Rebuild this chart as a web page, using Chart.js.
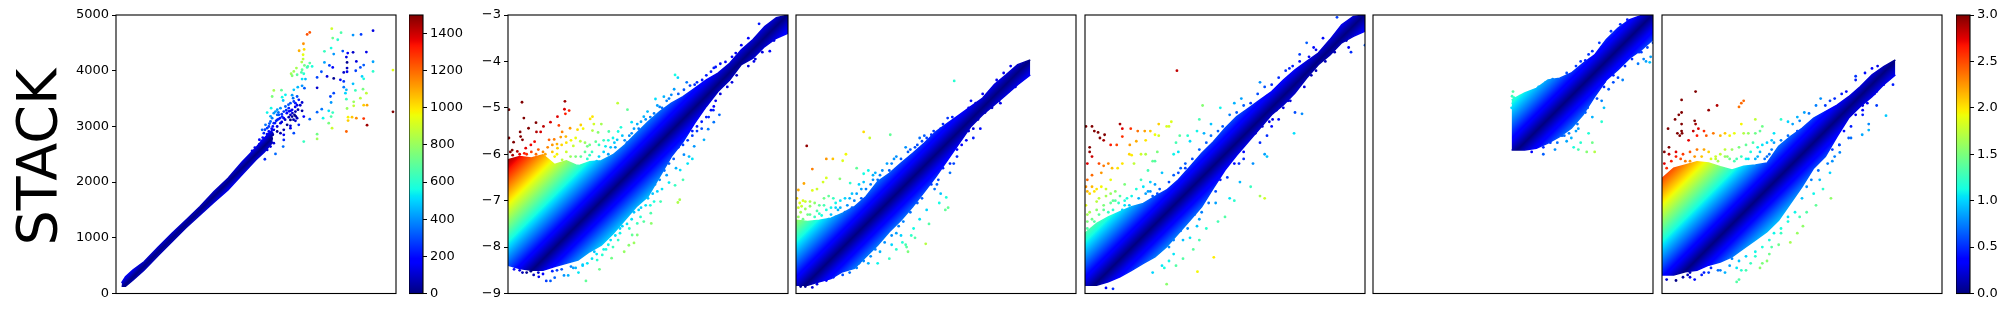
<!DOCTYPE html>
<html><head><meta charset="utf-8">
<script src="https://cdn.jsdelivr.net/npm/chart.js@4/dist/chart.umd.js"></script>
<style>
html,body{margin:0;padding:0;background:#fff;width:2011px;height:311px;overflow:hidden}
canvas{position:absolute;top:0}
#lab{position:absolute;left:36px;top:157px;transform:translate(-50%,-50%) rotate(-90deg);font:55.5px "DejaVu Sans";color:#000;white-space:nowrap}
</style></head><body>
<div id="lab">STACK</div>
<script>
// ---- envelope of the solid part of each cloud
const p1X=[100,170,300,500,750,1000,1250,1500,1750,2000,2250,2500,2650,2800];
const p1Up=[190,300,420,570,830,1080,1320,1560,1830,2070,2360,2620,2790,2950];
const p1Lo=[130,130,240,420,680,930,1180,1410,1640,1860,2130,2400,2540,2720];
const q25=[-9,-8.75,-8.5,-8.25,-8,-7.75,-7.5,-7.25,-7,-6.75,-6.5,-6.25,-6,-5.75,-5.5,-5.25,-5,-4.75,-4.5,-4.25,-4,-3.75,-3.5,-3.25,-3];
const p2X=q25;
const p2Up=[-6.12,-6.05,-6.08,-6.01,-6.22,-6.14,-6.25,-6.16,-6.14,-6.01,-5.8,-5.55,-5.3,-5.08,-4.9,-4.76,-4.58,-4.4,-4.25,-4.04,-3.75,-3.53,-3.25,-3.06,-3];
const p2Lo=[-8.39,-8.46,-8.5,-8.5,-8.42,-8.35,-8.28,-8.1,-7.96,-7.71,-7.42,-7.13,-6.91,-6.48,-6.05,-5.73,-5.33,-4.97,-4.65,-4.4,-4.07,-3.93,-3.68,-3.5,-3.39];
const p3X=[-9,-8.75,-8.5,-8.25,-8,-7.75,-7.5,-7.25,-7,-6.75,-6.5,-6.25,-6,-5.75,-5.5,-5.25,-5,-4.75,-4.5,-4.25,-3.98];
const p3Up=[-7.42,-7.45,-7.42,-7.38,-7.27,-7.13,-6.91,-6.59,-6.41,-6.19,-5.98,-5.76,-5.51,-5.33,-5.15,-4.97,-4.79,-4.5,-4.29,-4.07,-3.97];
const p3Lo=[-8.82,-8.82,-8.75,-8.68,-8.53,-8.46,-8.21,-7.96,-7.67,-7.42,-7.13,-6.81,-6.48,-6.12,-5.76,-5.4,-5.15,-4.94,-4.72,-4.5,-4.29];
const p4X=q25;
const p4Up=[-7.7,-7.49,-7.35,-7.24,-7.13,-7.06,-6.91,-6.77,-6.55,-6.27,-5.98,-5.73,-5.44,-5.19,-5.01,-4.83,-4.65,-4.4,-4.18,-4,-3.82,-3.53,-3.21,-3.03,-3];
const p4Lo=[-8.82,-8.82,-8.75,-8.64,-8.5,-8.35,-8.21,-7.99,-7.71,-7.42,-7.13,-6.73,-6.34,-6.02,-5.73,-5.44,-5.15,-4.94,-4.68,-4.36,-4.07,-3.86,-3.6,-3.46,-3.35];
const p5X=[-6.03,-5.75,-5.5,-5.25,-5,-4.75,-4.5,-4.25,-4,-3.75,-3.5,-3.25,-3];
const p5Up=[-4.83,-4.68,-4.58,-4.4,-4.36,-4.25,-4.04,-3.86,-3.53,-3.28,-3.1,-3.01,-3];
const p5Lo=[-5.91,-5.91,-5.87,-5.76,-5.62,-5.44,-5.15,-4.76,-4.4,-4.18,-3.93,-3.75,-3.53];
const p6X=[-9,-8.75,-8.5,-8.25,-8,-7.75,-7.5,-7.25,-7,-6.75,-6.5,-6.25,-6,-5.75,-5.5,-5.25,-5,-4.75,-4.5,-4.25,-4];
const p6Up=[-6.52,-6.3,-6.23,-6.16,-6.19,-6.27,-6.34,-6.26,-6.23,-6.19,-5.83,-5.62,-5.44,-5.22,-5.08,-4.94,-4.76,-4.54,-4.29,-4.11,-3.97];
const p6Lo=[-8.6,-8.6,-8.53,-8.5,-8.39,-8.32,-8.21,-8.03,-7.85,-7.67,-7.42,-7.06,-6.7,-6.3,-6.05,-5.62,-5.22,-4.97,-4.76,-4.5,-4.29];

// ---- individually visible points: x,y,x,y,...
const p1Pts=[4590,4718,4376,4652,4233,4640,4019,4682,3853,4754,3870,4586,3960,4556,3460,4688,3413,4652,3347,4484,3270,4358,3359,4382,3341,4286,3341,4208,3317,4154,3365,4094,3460,4136,3425,4077,3502,4077,3413,4058,3323,4017,3311,3969,3353,3945,3222,4047,3175,3987,3127,3945,3145,3909,3234,3927,3383,3849,3323,3849,3722,4347,3841,4406,3888,4298,4049,4353,4138,4317,4233,4329,4471,4335,4292,4167,4114,4245,4126,4149,4590,4161,4423,4101,4364,4059,4590,3987,3722,4149,3811,4095,3870,4059,4126,4047,4067,3969,4126,3981,4281,3999,4946,4011,4946,3261,3668,3981,3591,3879,3769,3897,3888,3861,4007,3837,4067,3807,4394,3897,4423,3855,3591,3693,4067,3705,4233,3765,4114,3657,4275,3645,4097,3597,4411,3669,4471,3597,4364,3507,3829,3537,3888,3597,3841,3429,4114,3489,4245,3441,4245,3369,4423,3381,4483,3381,4126,3321,3591,3255,3674,3309,3799,3279,3870,3249,3698,3147,3841,3177,3799,3058,3858,2968,4144,3165,4215,3165,4292,3147,4423,3141,4144,3105,4483,3022,4114,2908,3591,2860,3591,2776,3353,2728,3460,3129,2818,3645,2955,3651,2788,3537,2967,3525,2985,3465,3026,3567,3175,3657,3246,3705,3323,3729,3365,3687,3234,3537,3163,3507,3264,3477,3115,3417,3204,3417,3323,3429,3026,3357,2937,3327,2770,3327,2699,3249,2818,3237,2907,3207,2996,3267,3115,3207,3204,3267,3323,3279,3353,3177,3234,3147,3115,3117,2996,3147,2878,3117,2818,3058,2937,3058,3115,3010,3264,3028,2729,2998,2996,2938,3175,2878,3115,2968,2878,2908,2788,2878,2699,2818,2610,2938,2996,2848,2996,2758,2985,2638,2848,2506,2658,2410,2759,2638,2818,2698,2640,2698,2521,2518,2580,2578,2699,2578,3145,3177,3187,3207,3085,3165,3145,3297,3085,3327,3050,3237,2967,3177,2878,3207,2848,3267,2788,3147,2759,3088,2729,2908,2699,2968,2759,2878,2818,2938,2670,3028,2640,2878,2878,2998,2937,2878,3056,3028,3204,3100,3234,3380,3175,3447,3145,3560,2800,3000,2780,2960,2840,3060,2860,3100,2900,3130,2930,3150,2700,2860,2680,2800,2720,2760,2650,2780,2600,2740,2560,2680,2480,2620,2430,2560,2500,2480,2620,2560,2680,2640,2740,2700,2780,2780,2800,2850,2620,2800,2560,2760,2900,3250,2880,3300,2760,3180,2740,3050,2660,2940,3150,3240,3090,3270,3170,3120,3210,3180,3120,3280,3020,3120,2960,3080,3250,3300,3200,3350,3290,3380,3080,3390,3040,3290,2960,3220];
const p2Pts=[-8.98,-5.04,-8.7,-4.88,-7.78,-4.86,-7.79,-5.03,-7.69,-5.06,-7.77,-5.13,-7.94,-5.19,-8.66,-5.22,-8.4,-5.32,-8.56,-5.44,-8.74,-5.52,-8.24,-5.4,-8.09,-5.31,-7.91,-5.38,-8.73,-5.62,-8.69,-5.69,-8.39,-5.52,-8.3,-5.52,-8.43,-5.73,-8.51,-5.8,-8.88,-5.74,-8.98,-5.65,-8.91,-5.91,-8.8,-5.94,-8.62,-5.87,-8.12,-5.69,-8.01,-5.68,-7.87,-5.63,-7.76,-5.62,-7.84,-5.52,-7.67,-5.44,-7.51,-5.47,-7.44,-5.37,-7.39,-5.45,-7.24,-5.24,-7.19,-5.19,-7.16,-5.35,-7,-5.35,-7.19,-5.49,-7.07,-5.53,-6.65,-4.9,-6.44,-5.04,-6.35,-5.31,-6.58,-5.42,-6.84,-5.51,-6.64,-5.51,-7.33,-8.73,-7.04,-8.48,-7.49,-8.55,-7.8,-8.61,-7.71,-8.61,-8.34,-8.64,-8.18,-8.73,-8.09,-8.73,-8,-8.66,-8.69,-8.55,-8.51,-8.52,-8.87,-8.48,-8.05,-8.52,-6.78,-8.24,-7.09,-8.28,-6.98,-8.17,-6.51,-8.1,-6.3,-7.91,-6.41,-7.96,-6.23,-7.74,-6.34,-7.74,-6.64,-7.85,-5.93,-7.49,-6.09,-7.45,-6.23,-7.49,-5.94,-7.27,-6.16,-7.35,-5.73,-7.02,-5.87,-7.02,-5.32,-6.98,-5.36,-7.04,-5.42,-6.67,-5.55,-6.61,-5.25,-6.55,-5.31,-6.34,-5.12,-6.05,-5.23,-6.01,-5.01,-5.83,-4.8,-5.69,-4.71,-5.46,-4.59,-5.31,-4.47,-5.15,-4.59,-4.97,-3.39,-3.78,-3.73,-4,-5.42,-4.29,-5.36,-4.35,-5.17,-4.45,-5.44,-4.6,-5.84,-4.81,-5.66,-4.76,-6.01,-5.08,-6.09,-5.19,-6.23,-5.35,-3.62,-3.19,-4.12,-3.82,-4.34,-4.01,-4.59,-4.14,-4.84,-4.4,-5.23,-4.61,-5.87,-5.12,-6.66,-5.69,-6.91,-5.83,-7.12,-5.73,-7.3,-5.83,-7.44,-6.05,-7.66,-6.05,-7.84,-6.12,-7.94,-5.87,-7.6,-5.82,-7.45,-5.72,-7.2,-5.95,-7.05,-6.05,-6.85,-6.0,-6.7,-5.85,-6.55,-5.6,-6.4,-5.6,-6.2,-5.45,-6.6,-6.0,-6.9,-6.15,-7.3,-6.1,-8.6,-6.0,-8.4,-6.0,-8.2,-6.0,-8.0,-6.05,-7.7,-6.2,-7.5,-6.25,-5.8,-4.95,-5.6,-4.85,-5.5,-4.72,-5.05,-6.1,-5.15,-6.2,-5.4,-6.3,-5.6,-6.45,-5.8,-6.8,-5.7,-6.75,-5.95,-7.1,-6.15,-7.15,-6.4,-7.6,-6.55,-7.55,-6.6,-7.7,-6.75,-8.0,-6.9,-8.05,-7.15,-8.1,-7.4,-8.4,-7.6,-8.45,-4.95,-5.4,-4.85,-5.45,-5.05,-5.6,-4.65,-5.05,-4.7,-5.2,-4.55,-4.85,-8.05,-5.95,-7.95,-6.0,-7.75,-5.95,-7.55,-6.05,-7.35,-5.95,-7.25,-6.02,-7.1,-6.15,-6.95,-5.95,-6.8,-5.85,-6.75,-5.65,-6.72,-5.75,-6.5,-5.7,-6.45,-5.75,-6.35,-5.55,-6.3,-5.45,-6.15,-5.3,-6.05,-5.25,-5.95,-5.2,-5.75,-4.98,-5.7,-5.0,-5.55,-4.8,-5.35,-4.7,-5.1,-4.52,-5.0,-4.5,-4.95,-4.45,-4.75,-4.3,-4.65,-4.22,-4.55,-4.12,-4.45,-4.05,-4.2,-3.9,-4.0,-3.65,-3.85,-3.5,-8.85,-8.42,-8.75,-8.5,-8.6,-8.55,-8.45,-8.6,-8.35,-8.55,-8.25,-8.58,-7.95,-8.5,-7.85,-8.48,-7.65,-8.42,-7.55,-8.45,-7.4,-8.38,-7.3,-8.35,-7.2,-8.25,-7.1,-8.15,-6.95,-8.05,-6.85,-7.95,-6.8,-7.85,-6.7,-7.75,-6.6,-7.6,-6.45,-7.5,-6.35,-7.4,-6.3,-7.25,-6.2,-7.2,-6.05,-7.1,-6.0,-6.95,-5.9,-6.85,-5.85,-6.65,-5.75,-6.55,-5.65,-6.35,-5.55,-6.2,-5.45,-6.1,-5.35,-5.85,-5.25,-5.8,-5.15,-5.7,-5.05,-5.5,-4.95,-5.5,-4.85,-5.3,-4.75,-5.2,-4.6,-5.05,-4.45,-4.7,-4.3,-4.55,-4.2,-4.45,-4.1,-4.3,-3.85,-4.1,-3.7,-3.95,-3.55,-3.8,-3.3,-3.55,-8.95,-5.95,-8.9,-6.02,-8.75,-6.0,-8.65,-5.98,-8.5,-5.95,-8.35,-5.9,-8.25,-5.95,-8.15,-5.85,-8.05,-5.8,-7.95,-5.78,-7.85,-5.8,-7.75,-5.75,-7.65,-5.7,-7.55,-5.65,-7.35,-5.75,-7.25,-5.8,-7.05,-5.8,-6.95,-5.7,-6.85,-5.7];
const p3Pts=[-5.61,-4.42,-7.55,-5.52,-7.42,-5.65,-6.98,-5.58,-8.77,-5.82,-8.35,-6.1,-8.21,-6.1,-8.65,-6.32,-8.0,-6.14,-7.93,-6.0,-8.06,-6.53,-7.84,-6.62,-7.7,-6.3,-7.55,-6.42,-7.45,-6.35,-7.3,-6.4,-8.35,-6.51,-8.42,-6.6,-8.65,-6.78,-8.55,-6.75,-8.83,-6.63,-8.95,-6.77,-8.98,-6.95,-8.85,-7.0,-8.92,-7.05,-8.4,-6.95,-8.3,-6.9,-8.2,-6.95,-8.15,-7.05,-8.05,-7.0,-8.7,-7.12,-8.55,-7.22,-8.35,-7.2,-8.8,-7.18,-8.75,-7.3,-8.9,-7.25,-8.6,-7.35,-8.45,-7.32,-8.3,-7.4,-8.1,-7.2,-7.9,-7.1,-7.75,-7.0,-7.6,-6.75,-7.4,-6.65,-7.25,-6.55,-7.15,-6.35,-7.0,-6.35,-6.95,-6.2,-6.85,-6.05,-6.75,-6.1,-6.65,-5.85,-6.55,-5.9,-6.4,-5.8,-6.3,-5.72,-6.2,-5.65,-6.1,-5.58,-6.0,-5.6,-5.85,-5.35,-5.55,-5.42,-5.45,-5.2,-5.3,-5.0,-4.75,-4.6,-6.03,-6.75,-5.93,-7.05,-5.78,-6.93,-5.74,-7.15,-5.8,-7.2,-6.48,-7.6,-6.53,-7.75,-6.2,-7.2,-6.15,-7.5,-6.35,-7.4,-6.58,-7.15,-5.9,-6.85,-5.98,-6.65,-5.7,-6.4,-5.62,-6.2,-5.55,-6.05,-5.35,-5.7,-5.2,-5.65,-5.05,-5.45,-4.75,-4.75,-4.62,-4.9,-6.45,-7.8,-6.65,-7.95,-6.85,-8.05,-7.0,-8.25,-7.25,-8.35,-7.45,-8.35,-7.7,-8.45,-7.85,-8.55,-8.0,-8.6,-6.75,-7.75,-6.85,-7.7,-6.95,-7.95,-7.2,-8.1,-7.35,-7.95,-6.63,-8.0,-6.72,-7.9,-6.22,-7.93,-6.6,-8.1,-4.35,-4.55,-4.3,-4.4,-8.8,-8.85,-8.65,-8.87,-8.35,-8.72,-8.95,-7.35,-8.85,-7.4,-8.7,-7.3,-8.5,-7.28,-8.25,-7.3,-8.05,-7.15,-7.95,-7.25,-7.85,-6.95,-7.7,-6.85,-7.6,-6.95,-7.5,-6.75,-7.35,-6.45,-7.2,-6.45,-7.05,-6.2,-6.9,-6.1,-6.6,-5.95,-6.45,-5.85,-6.35,-5.65,-6.25,-5.6,-6.05,-5.5,-5.9,-5.45,-5.75,-5.22,-5.65,-5.2,-5.25,-4.85,-5.15,-4.9,-5.0,-4.7,-4.85,-4.65,-4.7,-4.4,-4.55,-4.25,-4.4,-4.1,-7.65,-8.35,-7.55,-8.3,-7.4,-8.2,-7.3,-8.05,-7.1,-7.9,-6.95,-7.75,-6.8,-7.55,-6.7,-7.45,-6.55,-7.25,-6.4,-7.05,-6.3,-6.95,-6.1,-6.65,-5.95,-6.55,-5.85,-6.3,-5.7,-6.2,-5.55,-5.9,-5.45,-5.8,-5.3,-5.5,-5.2,-5.45,-5.1,-5.25,-4.95,-5.1,-4.8,-5.0,-4.65,-4.85,-4.45,-4.65,-4.3,-4.55,-8.9,-8.85,-8.55,-8.8,-8.2,-8.65,-8.95,-7.15,-8.88,-7.12,-8.8,-7.02,-8.7,-7.02,-8.6,-7.05,-8.5,-7.1,-8.4,-7.1,-8.25,-7.15,-8.15,-7.15,-7.95,-6.95,-7.8,-6.85,-7.65,-6.65,-7.55,-6.6,-7.35,-6.55,-8.9,-7.45,-8.6,-7.45,-8.35,-7.45,-8.15,-7.35,-7.8,-7.15];
const p4Pts=[-7.03,-4.2,-8.98,-5.4,-8.85,-5.4,-8.8,-5.5,-8.72,-5.53,-8.68,-5.65,-8.58,-5.58,-8.6,-5.7,-8.45,-5.8,-8.25,-5.35,-8.2,-5.45,-8.02,-5.45,-7.87,-5.5,-7.72,-5.5,-7.6,-5.5,-7.42,-5.35,-7.25,-5.4,-7.15,-5.3,-7.2,-5.4,-7.42,-5.6,-8.2,-5.62,-7.9,-5.72,-7.7,-5.7,-7.5,-5.58,-8.04,-5.8,-8.3,-6.3,-8.32,-5.8,-8.9,-5.85,-8.9,-5.95,-8.85,-6.05,-8.95,-6.2,-8.7,-6.2,-8.6,-6.25,-8.5,-6.2,-8.42,-6.3,-8.2,-6.2,-8.05,-6.0,-8.0,-6.02,-7.95,-6.2,-7.7,-6.0,-7.8,-6.0,-7.45,-5.95,-7.5,-6.15,-7.1,-6.0,-7.0,-5.95,-7.05,-5.75,-6.97,-5.6,-6.8,-5.6,-6.75,-5.72,-6.85,-6.2,-6.95,-6.3,-7.35,-6.4,-7.55,-6.15,-7.65,-6.35,-7.8,-6.55,-7.5,-6.65,-7.25,-6.8,-7.3,-6.95,-7.55,-6.9,-7.7,-6.85,-7.9,-6.75,-8.15,-6.65,-8.45,-6.55,-8.65,-6.4,-8.85,-6.45,-8.95,-6.55,-8.98,-6.7,-8.9,-6.85,-8.8,-6.8,-8.75,-7.02,-8.7,-6.95,-8.55,-6.9,-8.35,-6.8,-8.25,-6.9,-8.45,-7.05,-8.6,-7.1,-8.75,-7.2,-8.9,-7.25,-8.95,-7.45,-8.85,-7.4,-8.5,-7.25,-8.2,-7.2,-8.15,-7.0,-8.05,-7.1,-6.48,-4.95,-6.1,-5.0,-5.65,-4.8,-5.25,-4.45,-5.1,-4.75,-4.62,-4.15,-4.4,-3.85,-4.1,-3.7,-6.3,-5.35,-6.55,-5.25,-5.8,-4.9,-6.45,-5.55,-6.6,-5.5,-7.05,-7.0,-4.25,-3.6,-4.65,-4.85,-4.5,-5.1,-4.85,-5.25,-5.0,-5.4,-5.25,-5.75,-5.1,-5.6,-3.0,-3.65,-3.35,-3.7,-3.3,-3.8,-4.3,-4.55,-4.98,-5.25,-4.35,-5.13,-4.52,-5.55,-5.15,-6.0,-5.1,-6.05,-5.68,-6.6,-5.4,-6.2,-5.6,-6.1,-5.7,-6.2,-5.45,-6.7,-5.25,-6.9,-5.15,-6.95,-5.8,-7.0,-5.9,-6.95,-6.0,-7.35,-6.2,-7.05,-6.15,-7.45,-6.4,-7.6,-6.55,-7.4,-6.6,-7.55,-6.55,-7.85,-6.75,-7.8,-6.68,-8.05,-6.9,-7.85,-6.9,-8.25,-7.05,-8.4,-7.2,-8.3,-7.35,-8.4,-7.3,-8.45,-7.1,-8.15,-6.24,-8.22,-6.59,-8.53,-7.55,-8.55,-7.25,-8.8,-8.4,-8.9,-8.55,-8.88,-7.6,-6.8,-7.4,-6.75,-7.2,-6.6,-7.1,-6.45,-7.0,-6.4,-6.85,-6.3,-6.7,-6.1,-6.55,-5.9,-6.4,-5.75,-6.3,-5.6,-6.15,-5.5,-6.05,-5.4,-5.9,-5.15,-5.75,-5.1,-5.6,-4.95,-5.45,-4.9,-5.3,-4.7,-5.15,-4.55,-5.0,-4.5,-4.85,-4.35,-4.7,-4.2,-4.55,-4.1,-4.4,-4.0,-4.2,-3.9,-4.05,-3.75,-3.9,-3.5,-3.6,-3.05,-8.4,-7.0,-8.6,-7.2,-8.8,-7.45,-8.95,-7.6,-8.85,-7.6,-7.4,-8.1,-7.2,-8.0,-7.1,-7.85,-6.95,-7.65,-6.8,-7.6,-6.65,-7.3,-6.5,-7.25,-6.35,-7.05,-6.2,-6.8,-6.1,-6.55,-5.95,-6.5,-5.8,-6.2,-5.6,-5.95,-5.45,-5.6,-5.35,-5.55,-5.2,-5.4,-5.05,-5.3,-4.9,-5.05,-4.75,-5.0,-4.6,-4.85,-4.45,-4.55,-4.15,-4.3,-4.05,-4.2,-3.85,-4.0,-3.65,-3.8,-3.4,-3.55,-8.95,-6.8,-8.85,-6.7,-8.75,-6.75,-8.65,-6.7,-8.55,-6.75,-8.45,-6.85,-8.35,-7.0,-8.28,-7.05,-8.1,-6.95,-8.0,-6.9,-7.85,-6.95,-7.75,-6.7,-7.65,-6.8,-7.6,-6.6,-7.45,-6.85,-8.98,-7.1,-8.95,-7.3,-8.7,-7.3,-8.4,-7.2,-8.15,-7.1];
const p5Pts=[-6.0,-4.65,-5.75,-4.75,-5.68,-4.85,-5.88,-4.92,-5.55,-4.85,-5.4,-4.85,-5.25,-4.8,-5.1,-4.85,-4.9,-4.75,-4.75,-4.6,-4.6,-4.65,-4.55,-4.72,-4.4,-4.55,-4.25,-4.6,-4.2,-4.0,-4.35,-3.95,-4.45,-3.98,-4.1,-3.7,-3.98,-3.6,-3.85,-3.55,-6.0,-4.9,-5.95,-4.95,-6.03,-5.0,-5.95,-5.05,-5.8,-4.95,-5.6,-4.98,-5.4,-5.05,-5.3,-5.05,-5.2,-4.95,-5.0,-4.98,-5.0,-5.35,-4.9,-5.6,-4.75,-5.65,-4.7,-5.3,-4.65,-5.5,-4.55,-5.75,-4.38,-5.55,-4.45,-5.1,-4.85,-5.72,-4.95,-5.6,-4.6,-5.9,-4.7,-5.85,-4.55,-5.05,-4.3,-5.2,-4.6,-5.45,-4.42,-5.95,-4.3,-5.75,-4.25,-5.95,-4.1,-5.3,-4.05,-5.0,-4.05,-4.55,-4.2,-4.8,-4.1,-4.85,-3.85,-4.45,-3.65,-4.4,-3.6,-4.1,-3.32,-4.05,-3.2,-3.95,-3.05,-3.9,-3.0,-3.6,-3.07,-4.02,-3.15,-4.0,-3.3,-3.8,-3.95,-4.6,-3.75,-4.35,-5.35,-6.0,-5.1,-5.9,-5.35,-5.85,-5.2,-5.75,-5.05,-5.75,-5.6,-5.95,-5.7,-5.85,-6.02,-4.75,-5.98,-4.78,-5.92,-4.82,-5.85,-4.75,-5.45,-4.55,-5.3,-4.45,-5.15,-4.38,-4.85,-4.25,-4.65,-4.1,-4.55,-4.0,-4.38,-3.85,-4.3,-3.78,-4.15,-3.6,-3.9,-3.35,-3.7,-3.2,-3.55,-3.1,-4.8,-5.55,-4.62,-5.35,-4.4,-5.0,-4.2,-4.6,-4.05,-4.45,-3.85,-4.3,-3.65,-4.05,-3.45,-3.95,-3.25,-3.8,-3.12,-3.7];
const p6Pts=[-8.28,-4.65,-8.58,-4.83,-7.82,-4.95,-8.58,-5.1,-8.64,-5.15,-8.72,-5.25,-8.3,-5.28,-7.25,-4.85,-7.3,-4.9,-7.35,-4.98,-8.28,-5.35,-8.0,-5.05,-8.22,-5.45,-8.33,-5.5,-8.58,-5.35,-8.58,-5.5,-8.87,-5.45,-8.57,-5.55,-8.62,-5.6,-8.67,-5.55,-8.43,-5.7,-8.25,-5.6,-8.1,-5.5,-8.05,-5.6,-7.9,-5.55,-7.75,-5.6,-7.65,-5.55,-7.55,-5.6,-7.45,-5.55,-7.3,-5.35,-7.25,-5.55,-7.15,-5.55,-7.0,-5.25,-7.0,-5.55,-6.85,-5.4,-6.75,-5.75,-6.6,-5.55,-6.45,-5.25,-6.3,-5.3,-6.1,-5.2,-5.95,-5.1,-5.7,-4.95,-5.6,-4.8,-8.85,-5.85,-8.95,-5.95,-8.85,-6.0,-8.7,-5.95,-8.55,-6.0,-8.4,-5.95,-8.25,-5.9,-8.1,-5.9,-8.0,-5.95,-7.85,-6.05,-7.75,-6.0,-7.65,-5.9,-7.5,-5.9,-7.35,-5.85,-7.2,-5.8,-7.05,-5.75,-6.9,-5.95,-6.7,-6.0,-6.55,-5.95,-8.9,-6.3,-8.7,-6.05,-8.4,-6.15,-7.9,-6.25,-7.55,-6.1,-7.2,-6.1,-7.0,-6.1,-6.75,-6.05,-6.3,-5.6,-6.1,-5.5,-5.75,-5.3,-5.38,-6.95,-5.19,-5.96,-5.35,-6.15,-5.0,-5.65,-4.95,-5.65,-5.3,-6.05,-5.4,-6.4,-5.62,-6.55,-5.55,-6.75,-5.75,-6.85,-5.7,-7.1,-5.9,-7.25,-5.98,-7.55,-6.05,-7.35,-6.1,-7.7,-6.3,-7.45,-6.45,-7.7,-6.25,-7.9,-6.5,-7.95,-6.65,-8.0,-6.7,-8.15,-7.0,-8.2,-7.1,-8.35,-6.85,-8.35,-6.9,-8.45,-6.75,-8.3,-7.2,-8.5,-7.3,-8.5,-7.35,-8.7,-7.4,-8.75,-7.65,-8.55,-7.75,-8.5,-7.5,-8.25,-7.95,-8.45,-8.1,-8.55,-8.4,-8.55,-8.55,-8.65,-8.3,-8.7,-8.45,-8.6,-8.85,-8.5,-8.95,-8.55,-5.65,-5.35,-5.2,-5.8,-4.5,-4.55,-4.3,-4.3,-4.25,-4.5,-4.05,-4.5,-4.4,-4.65,-4.6,-4.8,-4.7,-4.95,-4.7,-5.15,-4.2,-5.17,-4.4,-4.95,-4.85,-4.32,-4.38,-4.1,-4.5,-4.45,-4.71,-5.58,-4.57,-5.35,-4.57,-5.48,-6.9,-5.5,-6.65,-5.7,-7.85,-6.1,-7.6,-6.05,-7.4,-6.1,-7.1,-5.95,-6.95,-5.85,-6.85,-5.8,-6.6,-5.75,-6.45,-5.7,-6.2,-5.35,-6.05,-5.28,-5.85,-5.12,-5.5,-4.95,-5.4,-4.85,-5.3,-4.8,-5.15,-4.7,-5.05,-4.65,-4.85,-4.4,-4.65,-4.25,-4.5,-4.15,-7.0,-8.1,-6.85,-8.0,-6.7,-7.85,-6.6,-7.7,-6.45,-7.6,-6.3,-7.35,-6.15,-7.25,-6.0,-6.95,-5.9,-6.7,-5.8,-6.55,-5.65,-6.35,-5.45,-6.2,-5.35,-5.9,-5.2,-5.8,-5.1,-5.5,-4.95,-5.4,-4.85,-5.15,-4.7,-5.05,-4.6,-4.9,-4.45,-4.7,-4.35,-4.55,-7.55,-8.4,-7.35,-8.3,-7.2,-8.2,-7.4,-8.45,-7.8,-8.5,-8.0,-8.55,-8.15,-8.6,-8.9,-8.7,-8.7,-8.72,-8.4,-8.65,-8.95,-6.2,-8.8,-6.15,-8.6,-6.1,-8.5,-6.15,-8.3,-6.05,-8.15,-6.05,-7.95,-6.1,-7.8,-6.15,-7.65,-6.05,-7.45,-6.15,-7.3,-6.05,-7.15,-6.1,-6.95,-6.05,-6.8,-6.1,-6.65,-5.9];

// ---- colour bars and axis ticks
const cbar1Max=1500, cbar1Step=200, cbar2Max=3, cbar2Step=0.5;
const p1Range=[0,5000], p1Step=1000, logRange=[-9,-3], logStep=1;

function lerp(pts,t){for(let i=1;i<pts.length;i++){if(t<=pts[i][0]){const a=pts[i-1],b=pts[i];return a[1]+(b[1]-a[1])*(t-a[0])/(b[0]-a[0]);}}return pts[pts.length-1][1];}
const R=[[0,0],[.35,0],[.66,1],[.89,1],[1,.5]],G=[[0,0],[.125,0],[.375,1],[.64,1],[.91,0],[1,0]],B=[[0,.5],[.11,1],[.34,1],[.65,0],[1,0]];
function jet(t){t=Math.max(0,Math.min(1,t));return `rgb(${Math.round(255*lerp(R,t))},${Math.round(255*lerp(G,t))},${Math.round(255*lerp(B,t))})`;}
function pairs(a){const o=[];for(let i=0;i<a.length;i+=2)o.push({x:a[i],y:a[i+1]});return o;}

function diagGrad(chart,cmax){
  const xs=chart.scales.x,ys=chart.scales.y;
  if(!chart.chartArea||!xs||!ys||!xs.width)return '#00f';
  const m=(Math.max(xs.min,ys.min)+Math.min(xs.max,ys.max))/2;
  const a=(xs.width/(xs.max-xs.min)+ys.height/(ys.max-ys.min))/2;
  const dx=xs.getPixelForValue(m),dy=ys.getPixelForValue(m),v=a*cmax/2;
  const g=chart.ctx.createLinearGradient(dx-v,dy-v,dx+v,dy+v);
  for(let i=0;i<=128;i++){const t=i/128;g.addColorStop(t,jet(Math.abs(2*t-1)));}
  return g;
}
const framePlugin={id:'frame',afterDraw(c){const a=c.chartArea,x=c.ctx;x.save();x.strokeStyle='#000';x.lineWidth=1.1;x.strokeRect(a.left,a.top,a.right-a.left,a.bottom-a.top);x.restore();}};
const fmt=v=>String(v).replace('-','\u2212');
const tickFont={family:'"DejaVu Sans"',size:13};

function panel(left,width,xr,yr,step,showAxis,cmax,ex,up,lo,pts){
  const cv=document.createElement('canvas');
  const pad=50;cv.width=width+pad+6;cv.height=311;cv.style.left=(left-pad)+'px';
  document.body.appendChild(cv);
  const line={type:'scatter',showLine:true,tension:0,pointRadius:0,borderWidth:1.5,
    borderColor:c=>diagGrad(c.chart,cmax),backgroundColor:c=>diagGrad(c.chart,cmax)};
  const ch=new Chart(cv,{type:'scatter',
    data:{datasets:[
      {...line,data:ex.map((x,i)=>({x,y:up[i]})),fill:'+1'},
      {...line,data:ex.map((x,i)=>({x,y:lo[i]})),fill:false},
      {type:'scatter',data:pairs(pts),pointRadius:1.4,pointBorderWidth:0,
       pointBackgroundColor:c=>c.raw?jet(Math.abs(c.raw.y-c.raw.x)/cmax):'#00f'}
    ]},
    options:{responsive:false,animation:false,
      layout:{padding:{top:15,bottom:17.5,left:0,right:6}},
      plugins:{legend:{display:false},tooltip:{enabled:false}},
      scales:{
        x:{type:'linear',min:xr[0],max:xr[1],display:false},
        y:{type:'linear',min:yr[0],max:yr[1],display:true,afterFit(s){s.width=pad;},
           grid:{drawOnChartArea:false,drawTicks:showAxis,tickLength:4,color:'#000'},border:{display:false},
           ticks:{display:showAxis,stepSize:step,color:'#000',font:tickFont,padding:3,callback:fmt,maxRotation:0}}
      }},plugins:[framePlugin]});
  return ch;
}
function colorbar(left,width,cmax,step){
  const cv=document.createElement('canvas');
  const padR=50;cv.width=width+padR;cv.height=311;cv.style.left=left+'px';
  document.body.appendChild(cv);
  new Chart(cv,{type:'bar',
    data:{labels:[''],datasets:[{data:[[0,cmax]],barPercentage:1,categoryPercentage:1,borderWidth:0,
      backgroundColor:c=>{const a=c.chart.chartArea;if(!a)return '#00f';
        const g=c.chart.ctx.createLinearGradient(0,a.bottom,0,a.top);
        for(let i=0;i<=128;i++)g.addColorStop(i/128,jet(i/128));return g;}}]},
    options:{responsive:false,animation:false,
      layout:{padding:{top:15,bottom:17.5,left:0,right:0}},
      plugins:{legend:{display:false},tooltip:{enabled:false}},
      scales:{x:{display:false},
        y:{position:'right',min:0,max:cmax,afterFit(s){s.width=padR;},
           grid:{drawOnChartArea:false,drawTicks:true,tickLength:4,color:'#000'},border:{display:false},
           ticks:{stepSize:step,includeBounds:false,color:'#000',font:tickFont,padding:3,
             callback:v=>cmax===3?v.toFixed(1):String(v)}}}
    },plugins:[framePlugin]});
}
panel(115.5,280.5,p1Range,p1Range,p1Step,true,cbar1Max,p1X,p1Up,p1Lo,p1Pts);
colorbar(409,14.5,cbar1Max,cbar1Step);
panel(507.5,280,logRange,logRange,logStep,true,cbar2Max,p2X,p2Up,p2Lo,p2Pts);
panel(796,280,logRange,logRange,logStep,false,cbar2Max,p3X,p3Up,p3Lo,p3Pts);
panel(1084.5,280,logRange,logRange,logStep,false,cbar2Max,p4X,p4Up,p4Lo,p4Pts);
panel(1373,280,logRange,logRange,logStep,false,cbar2Max,p5X,p5Up,p5Lo,p5Pts);
panel(1661.5,280.5,logRange,logRange,logStep,false,cbar2Max,p6X,p6Up,p6Lo,p6Pts);
colorbar(1956,14.5,cbar2Max,cbar2Step);
</script></body></html>
